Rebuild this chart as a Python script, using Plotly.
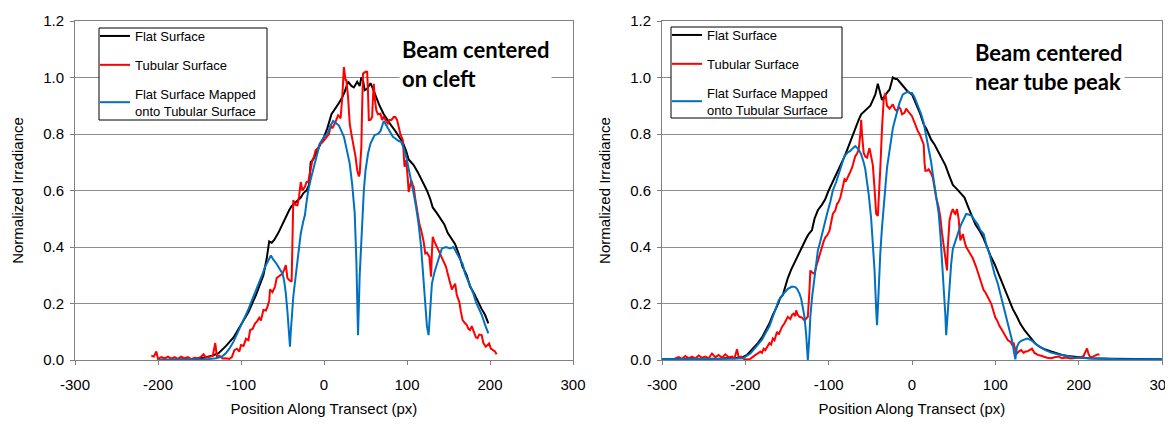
import plotly.graph_objects as go

# ---------------- data ----------------
X_TICKS = [-300, -200, -100, 0, 100, 200, 300]
X_TICK_TEXT = ["-300", "-200", "-100", "0", "100", "200", "300"]
Y_TICKS = [0.0, 0.2, 0.4, 0.6, 0.8, 1.0, 1.2]
SERIES_NAMES = ["Flat Surface", "Tubular Surface", "Flat Surface Mapped<br>onto Tubular Surface"]
PANEL_NOTES = ["Beam centered<br>on cleft", "Beam centered<br>near tube peak"]
X_TITLE = "Position Along Transect (px)"
Y_TITLE = "Normalized Irradiance"

# Left panel: beam centered on cleft
FLAT_L = [(-200,0),(-180,0.001),(-160,0.003),(-145,0.008),(-135,0.015),(-127,0.024),(-118,0.05),
          (-109,0.08),(-100,0.124),(-91,0.17),(-82,0.23),(-73,0.30),(-69,0.36),(-66,0.42),(-63,0.415),
          (-60,0.425),(-55,0.45),(-50,0.48),(-46,0.51),(-42,0.53),(-39,0.545),(-35,0.555),(-32,0.566),
          (-28,0.575),(-25,0.59),(-21,0.60),(-18,0.62),(-16,0.70),(-13,0.71),(-10,0.73),(-5,0.76),
          (0,0.79),(4,0.82),(9,0.87),(14,0.89),(18,0.91),(22,0.93),(25,0.95),(29,0.985),(33,0.97),
          (36,0.965),(40,0.985),(43,0.97),(45,1.0),(47,0.99),(49,0.955),(52,0.96),(56,0.98),(59,0.96),
          (63,0.93),(67,0.90),(72,0.87),(76,0.85),(81,0.83),(86,0.81),(90,0.79),(95,0.77),(99,0.74),
          (102,0.71),(105,0.70),(108,0.69),(113,0.665),(117,0.64),(121,0.62),(124,0.60),(128,0.57),
          (131,0.54),(136,0.52),(140,0.50),(145,0.48),(149,0.45),(154,0.43),(158,0.41),(163,0.37),
          (167,0.33),(172,0.30),(176,0.26),(181,0.235),(185,0.21),(190,0.18),(194,0.16),(198,0.13)]

TUBE_L = [(-208,0.015),(-205,0.012),(-202,0.03),(-200,0.004),(-196,0.01),(-192,0.006),(-188,0.012),
          (-184,0.005),(-180,0.01),(-176,0.004),(-172,0.012),(-168,0.006),(-164,0.01),(-160,0.003),
          (-156,0.008),(-152,0.005),(-148,0.012),(-145,0.02),(-142,0.008),(-138,0.012),(-134,0.015),
          (-131,0.06),(-129,0.01),(-126,0.015),(-122,0.005),(-118,0.006),(-114,0.004),(-111,0.01),
          (-108,0.035),(-105,0.04),(-102,0.03),(-100,0.053),(-97,0.05),(-94,0.075),(-91,0.07),
          (-89,0.106),(-86,0.11),(-83,0.13),(-81,0.135),(-78,0.15),(-76,0.14),(-73,0.177),(-70,0.175),
          (-68,0.19),(-66,0.21),(-65,0.25),(-62,0.24),(-59,0.26),(-57,0.29),(-55,0.295),(-52,0.30),
          (-50,0.306),(-48,0.32),(-46,0.336),(-44,0.29),(-42,0.283),(-39,0.277),(-38,0.40),(-37,0.566),
          (-35,0.55),(-32,0.548),(-30,0.58),(-28,0.63),(-26,0.60),(-23,0.613),(-21,0.63),(-19,0.63),
          (-17,0.66),(-14,0.707),(-12,0.72),(-10,0.743),(-7,0.75),(-5,0.766),(-2,0.77),(0,0.778),
          (2,0.785),(4,0.796),(6,0.80),(8,0.83),(10,0.82),(13,0.837),(15,0.85),(17,0.866),(19,0.86),
          (20,0.855),(22,0.93),(24,1.037),(26,0.99),(27,0.99),(29,0.93),(31,0.837),(33,0.80),
          (36,0.754),(38,0.72),(40,0.672),(42,0.65),(43,0.66),(44,0.70),(45,0.754),(46,0.90),
          (47,1.014),(50,1.02),(52,1.02),(53,0.95),(54,0.849),(56,0.85),(58,0.86),(59,0.93),
          (60,0.978),(61,0.93),(63,0.884),(65,0.87),(68,0.872),(70,0.85),(72,0.86),(75,0.845),
          (77,0.837),(79,0.85),(81,0.849),(84,0.86),(86,0.86),(88,0.85),(90,0.825),(92,0.80),
          (95,0.778),(96,0.72),(97,0.684),(98,0.70),(99,0.707),(101,0.64),(102,0.595),(104,0.62),
          (105,0.637),(107,0.62),(108,0.613),(110,0.57),(113,0.507),(115,0.48),(117,0.46),(120,0.42),
          (122,0.377),(124,0.38),(127,0.365),(129,0.295),(130,0.38),(131,0.436),(133,0.42),(136,0.40),
          (138,0.39),(140,0.377),(142,0.36),(145,0.342),(147,0.33),(149,0.306),(151,0.28),(154,0.25),
          (156,0.26),(158,0.27),(160,0.23),(163,0.206),(165,0.17),(167,0.141),(170,0.13),(172,0.124),
          (174,0.11),(176,0.106),(178,0.12),(181,0.094),(183,0.08),(185,0.077),(187,0.09),(190,0.088),
          (192,0.06),(195,0.047),(197,0.055),(199,0.059),(201,0.04),(204,0.035),(206,0.03),(208,0.02)]

MAPPED_L = [(-200,0),(-170,0.001),(-140,0.003),(-130,0.006),(-123,0.012),(-118,0.025),(-114,0.04),
            (-109,0.065),(-105,0.09),(-100,0.12),(-96,0.147),(-91,0.18),(-87,0.21),(-82,0.245),
            (-78,0.277),(-74,0.305),(-71,0.33),(-67,0.35),(-64,0.37),(-61,0.355),(-57,0.34),(-53,0.32),
            (-50,0.306),(-48,0.28),(-46,0.236),(-44,0.17),(-42,0.09),(-41,0.047),(-40,0.10),(-38,0.18),
            (-37,0.224),(-34,0.30),(-32,0.354),(-30,0.40),(-28,0.448),(-25,0.49),(-23,0.513),(-21,0.56),
            (-19,0.60),(-16,0.64),(-12,0.69),(-8,0.74),(-5,0.766),(0,0.79),(4,0.80),(8,0.83),(11,0.846),
            (14,0.84),(18,0.83),(21,0.81),(24,0.79),(27,0.75),(31,0.695),(34,0.62),(37,0.52),(39,0.35),
            (41,0.088),(43,0.30),(46,0.495),(48,0.60),(50,0.67),(53,0.73),(56,0.766),(61,0.796),
            (65,0.80),(68,0.81),(72,0.846),(75,0.83),(79,0.807),(83,0.79),(86,0.784),(90,0.775),
            (93,0.772),(96,0.75),(99,0.72),(102,0.68),(104,0.648),(108,0.59),(111,0.54),(114,0.48),
            (117,0.40),(119,0.32),(122,0.19),(124,0.12),(126,0.088),(128,0.18),(130,0.27),(133,0.31),
            (136,0.34),(139,0.37),(142,0.395),(147,0.40),(152,0.395),(156,0.40),(160,0.38),(163,0.365),
            (167,0.34),(170,0.306),(173,0.285),(176,0.265),(180,0.235),(183,0.206),(187,0.18),(190,0.16),
            (194,0.125),(198,0.094)]

# Right panel: beam centered near tube peak
FLAT_R = [(-300,0.003),(-260,0.003),(-230,0.005),(-210,0.008),(-203,0.01),(-198,0.018),(-194,0.03),
          (-190,0.045),(-185,0.06),(-180,0.08),(-176,0.10),(-171,0.13),(-167,0.16),(-162,0.19),
          (-158,0.22),(-155,0.23),(-152,0.26),(-149,0.29),(-145,0.32),(-140,0.35),(-136,0.38),
          (-131,0.405),(-127,0.43),(-124,0.446),(-120,0.46),(-117,0.50),(-113,0.53),(-108,0.55),
          (-104,0.57),(-100,0.60),(-95,0.63),(-90,0.66),(-86,0.69),(-81,0.72),(-77,0.75),(-72,0.79),
          (-68,0.82),(-64,0.85),(-61,0.87),(-57,0.88),(-54,0.89),(-50,0.90),(-47,0.92),(-44,0.94),
          (-41,0.978),(-39,0.95),(-36,0.92),(-34,0.93),(-32,0.94),(-29,0.95),(-27,0.957),(-25,0.98),
          (-23,1.0),(-20,0.995),(-18,0.995),(-15,0.985),(-11,0.97),(-8,0.96),(-5,0.95),(0,0.94),
          (3,0.92),(7,0.89),(10,0.87),(14,0.834),(17,0.82),(20,0.80),(23,0.78),(27,0.763),(31,0.74),
          (36,0.71),(40,0.69),(45,0.65),(49,0.62),(54,0.605),(58,0.59),(63,0.575),(67,0.545),
          (72,0.505),(76,0.48),(81,0.458),(86,0.43),(90,0.40),(94,0.37),(99,0.34),(103,0.31),
          (108,0.276),(112,0.245),(117,0.211),(121,0.18),(126,0.153),(130,0.128),(135,0.106),
          (140,0.087),(144,0.07),(148,0.058),(153,0.047),(160,0.037),(167,0.03),(174,0.023),
          (180,0.018),(187,0.014),(194,0.012),(203,0.008),(212,0.006),(240,0.004),(270,0.003),
          (300,0.003)]

TUBE_R = [(-285,0.005),(-280,0.01),(-276,0.004),(-272,0.014),(-268,0.006),(-264,0.012),(-260,0.005),
          (-256,0.016),(-252,0.008),(-248,0.012),(-244,0.006),(-240,0.023),(-236,0.01),(-232,0.018),
          (-228,0.008),(-224,0.02),(-220,0.01),(-216,0.012),(-213,0.006),(-210,0.038),(-208,0.01),
          (-205,0.012),(-202,0.004),(-198,0.002),(-194,0.004),(-190,0.015),(-187,0.02),(-185,0.023),
          (-182,0.03),(-180,0.025),(-178,0.04),(-176,0.035),(-173,0.05),(-171,0.06),(-169,0.055),
          (-167,0.076),(-165,0.07),(-162,0.10),(-160,0.09),(-158,0.105),(-156,0.117),(-153,0.13),
          (-151,0.14),(-149,0.153),(-146,0.145),(-144,0.16),(-142,0.164),(-140,0.155),(-139,0.176),
          (-137,0.16),(-135,0.153),(-132,0.15),(-129,0.14),(-127,0.145),(-125,0.153),(-123,0.25),
          (-122,0.317),(-120,0.31),(-117,0.305),(-115,0.33),(-113,0.352),(-111,0.37),(-108,0.40),
          (-106,0.42),(-104,0.434),(-102,0.44),(-99,0.458),(-97,0.49),(-95,0.517),(-92,0.53),
          (-90,0.552),(-88,0.56),(-86,0.575),(-84,0.60),(-81,0.64),(-79,0.635),(-77,0.646),(-75,0.66),
          (-72,0.68),(-70,0.70),(-68,0.722),(-66,0.73),(-64,0.745),(-62,0.80),(-61,0.85),(-60,0.80),
          (-58,0.733),(-56,0.72),(-54,0.716),(-52,0.74),(-51,0.75),(-49,0.72),(-47,0.69),(-45,0.61),
          (-43,0.517),(-41,0.51),(-40,0.56),(-38,0.68),(-36,0.82),(-34,0.92),(-32,0.945),(-30,0.90),
          (-27,0.89),(-25,0.90),(-23,0.905),(-21,0.89),(-18,0.88),(-16,0.895),(-14,0.89),(-12,0.87),
          (-9,0.875),(-7,0.89),(-5,0.88),(-2,0.87),(0,0.863),(3,0.84),(5,0.82),(7,0.81),(9,0.80),
          (12,0.78),(14,0.763),(15,0.70),(16,0.67),(18,0.67),(20,0.675),(23,0.66),(25,0.646),
          (27,0.61),(29,0.575),(32,0.54),(34,0.505),(36,0.45),(38,0.40),(40,0.35),(42,0.317),
          (43,0.40),(45,0.493),(47,0.52),(49,0.534),(51,0.52),(52,0.517),(54,0.534),(56,0.50),
          (58,0.423),(60,0.44),(61,0.446),(63,0.42),(65,0.40),(67,0.39),(70,0.376),(73,0.36),
          (77,0.329),(79,0.31),(81,0.294),(84,0.27),(86,0.247),(88,0.24),(90,0.229),(93,0.21),
          (95,0.20),(98,0.17),(100,0.15),(102,0.141),(105,0.12),(108,0.106),(111,0.09),(113,0.08),
          (115,0.07),(118,0.065),(120,0.055),(122,0.059),(124,0.035),(126,0.023),(128,0.03),
          (131,0.035),(134,0.025),(136,0.03),(138,0.03),(141,0.035),(144,0.04),(147,0.025),
          (151,0.018),(155,0.015),(158,0.012),(162,0.008),(167,0.006),(171,0.01),(176,0.012),
          (180,0.006),(185,0.009),(190,0.005),(194,0.006),(198,0.008),(203,0.01),(206,0.015),
          (208,0.03),(210,0.041),(212,0.02),(214,0.01),(217,0.012),(220,0.015),(223,0.02),(225,0.018)]

MAPPED_R = [(-300,0.003),(-250,0.003),(-215,0.004),(-203,0.006),(-198,0.014),(-194,0.023),(-190,0.037),
            (-185,0.053),(-180,0.072),(-176,0.094),(-171,0.12),(-167,0.153),(-163,0.185),(-160,0.211),
            (-156,0.228),(-153,0.24),(-149,0.252),(-144,0.26),(-140,0.258),(-138,0.252),(-135,0.235),
            (-133,0.217),(-131,0.19),(-129,0.153),(-127,0.09),(-125,0.0),(-123,0.09),(-122,0.153),
            (-120,0.22),(-117,0.293),(-115,0.34),(-113,0.387),(-110,0.42),(-108,0.446),(-105,0.48),
            (-102,0.517),(-98,0.56),(-95,0.60),(-91,0.63),(-88,0.657),(-84,0.69),(-81,0.722),
            (-77,0.735),(-74,0.74),(-71,0.75),(-68,0.757),(-64,0.745),(-61,0.728),(-58,0.70),
            (-56,0.675),(-54,0.63),(-52,0.587),(-49,0.50),(-47,0.423),(-45,0.32),(-43,0.18),
            (-42,0.123),(-41,0.18),(-40,0.27),(-38,0.38),(-36,0.47),(-34,0.54),(-32,0.61),(-30,0.68),
            (-27,0.74),(-25,0.785),(-23,0.82),(-20,0.855),(-18,0.88),(-15,0.91),(-11,0.94),(-8,0.945),
            (-5,0.95),(-2,0.945),(0,0.945),(3,0.93),(5,0.916),(8,0.895),(11,0.87),(14,0.84),(16,0.81),
            (18,0.775),(20,0.74),(23,0.70),(25,0.657),(27,0.62),(29,0.587),(32,0.52),(34,0.446),
            (36,0.36),(38,0.258),(40,0.16),(41,0.088),(43,0.18),(45,0.27),(47,0.34),(49,0.393),
            (52,0.42),(54,0.446),(57,0.465),(59,0.48),(62,0.50),(65,0.517),(68,0.515),(72,0.51),
            (75,0.495),(79,0.48),(82,0.46),(86,0.446),(89,0.41),(93,0.376),(96,0.34),(99,0.305),
            (103,0.27),(106,0.235),(110,0.19),(113,0.153),(116,0.115),(120,0.07),(122,0.035),
            (124,0.002),(126,0.047),(128,0.06),(131,0.068),(135,0.074),(138,0.076),(141,0.073),
            (144,0.068),(148,0.058),(153,0.047),(160,0.035),(167,0.026),(174,0.021),(180,0.018),
            (187,0.013),(194,0.009),(205,0.007),(217,0.005),(250,0.003),(300,0.003)]

COLORS = ["#000000", "#FF0000", "#0070C0"]

# ---------------- figure ----------------
# the page has an 8px body margin, so the figure is 16px smaller and
# every reference pixel position is shifted by 8px
OFF = 8
W, H = 1173 - 2 * OFF, 426 - 2 * OFF
PLOT_TOP, PLOT_BOTTOM = 21 - OFF, 360 - OFF
M_T, M_B = PLOT_TOP, H - PLOT_BOTTOM
PLOT_H = H - M_T - M_B

def px_x(p):
    return (p - OFF) / W

def px_y(p):
    return (PLOT_BOTTOM - (p - OFF)) / PLOT_H

fig = go.Figure()
panels = [
    ("x", "y", "legend", [FLAT_L, TUBE_L, MAPPED_L]),
    ("x2", "y2", "legend2", [FLAT_R, TUBE_R, MAPPED_R]),
]
for xa, ya, lg, series in panels:
    for i, (name, data, col) in enumerate(zip(SERIES_NAMES, series, COLORS)):
        fig.add_trace(go.Scatter(
            x=[p[0] for p in data], y=[p[1] for p in data],
            mode="lines", name=name, line=dict(color=col, width=2),
            xaxis=xa, yaxis=ya, legend=lg, legendgroup=f"{lg}_{i}",
            hoverinfo="skip",
        ))

font_main = dict(family="Liberation Sans, Arial, sans-serif", size=15, color="#000000")
axis_common = dict(
    showline=True, mirror=True, linecolor="#808080", linewidth=1,
    ticks="outside", ticklen=4, tickcolor="#808080", zeroline=False,
    tickfont=font_main, automargin=False, ticklabeloverflow="allow",
)
xdoms = [[px_x(75), px_x(573)], [px_x(662), px_x(1162)]]
for k, dom in enumerate(xdoms):
    sfx = "" if k == 0 else "2"
    fig.update_layout(**{
        f"xaxis{sfx}": dict(axis_common, domain=dom, range=[-300, 300], tickvals=X_TICKS,
                            ticktext=X_TICK_TEXT, ticklabelstandoff=7,
                            showgrid=False, anchor=f"y{sfx}",
                            title=dict(text=X_TITLE, font=font_main, standoff=11)),
        f"yaxis{sfx}": dict(axis_common, domain=[0, 1], range=[0, 1.2], tickvals=Y_TICKS,
                            tickformat=".1f", showgrid=True, gridcolor="#8C8C8C", gridwidth=1,
                            anchor=f"x{sfx}", ticklabelstandoff=3,
                            title=dict(text=Y_TITLE, font=font_main, standoff=15)),
    })

# legend frames (reference pixel boxes) drawn as white boxes with a black border,
# the plotly legends sit on top of them without their own border
legend_boxes = [(99, 28, 267, 120), (671, 27, 842, 118)]
for (bx0, by0, bx1, by1) in legend_boxes:
    fig.add_shape(type="rect", xref="paper", yref="paper",
                  x0=px_x(bx0), x1=px_x(bx1), y0=px_y(by1), y1=px_y(by0),
                  line=dict(color="#000000", width=1), fillcolor="#FFFFFF", layer="above")

legend_common = dict(
    bgcolor="rgba(0,0,0,0)", borderwidth=0,
    font=dict(family="Liberation Sans, Arial, sans-serif", size=13, color="#000000"),
    traceorder="grouped", tracegroupgap=9, xanchor="left", yanchor="top",
    itemclick=False, itemdoubleclick=False,
)
fig.update_layout(
    legend=dict(legend_common, x=px_x(95), y=px_y(21)),
    legend2=dict(legend_common, x=px_x(667), y=px_y(20)),
)

note_pos = [(399, 33), (972, 36)]
for txt, (nx, ny) in zip(PANEL_NOTES, note_pos):
    fig.add_annotation(
        text=f"<b>{txt}</b>", xref="paper", yref="paper",
        x=px_x(nx), y=px_y(ny), xanchor="left", yanchor="top", align="left",
        showarrow=False, bgcolor="#FFFFFF", borderpad=2,
        font=dict(family="Lato, Calibri, sans-serif", size=22, color="#000000"),
    )

fig.update_layout(
    width=W, height=H, margin=dict(l=0, r=0, t=M_T, b=M_B),
    paper_bgcolor="#FFFFFF", plot_bgcolor="#FFFFFF",
    showlegend=True, font=font_main,
)

fig.write_html("out.html")
